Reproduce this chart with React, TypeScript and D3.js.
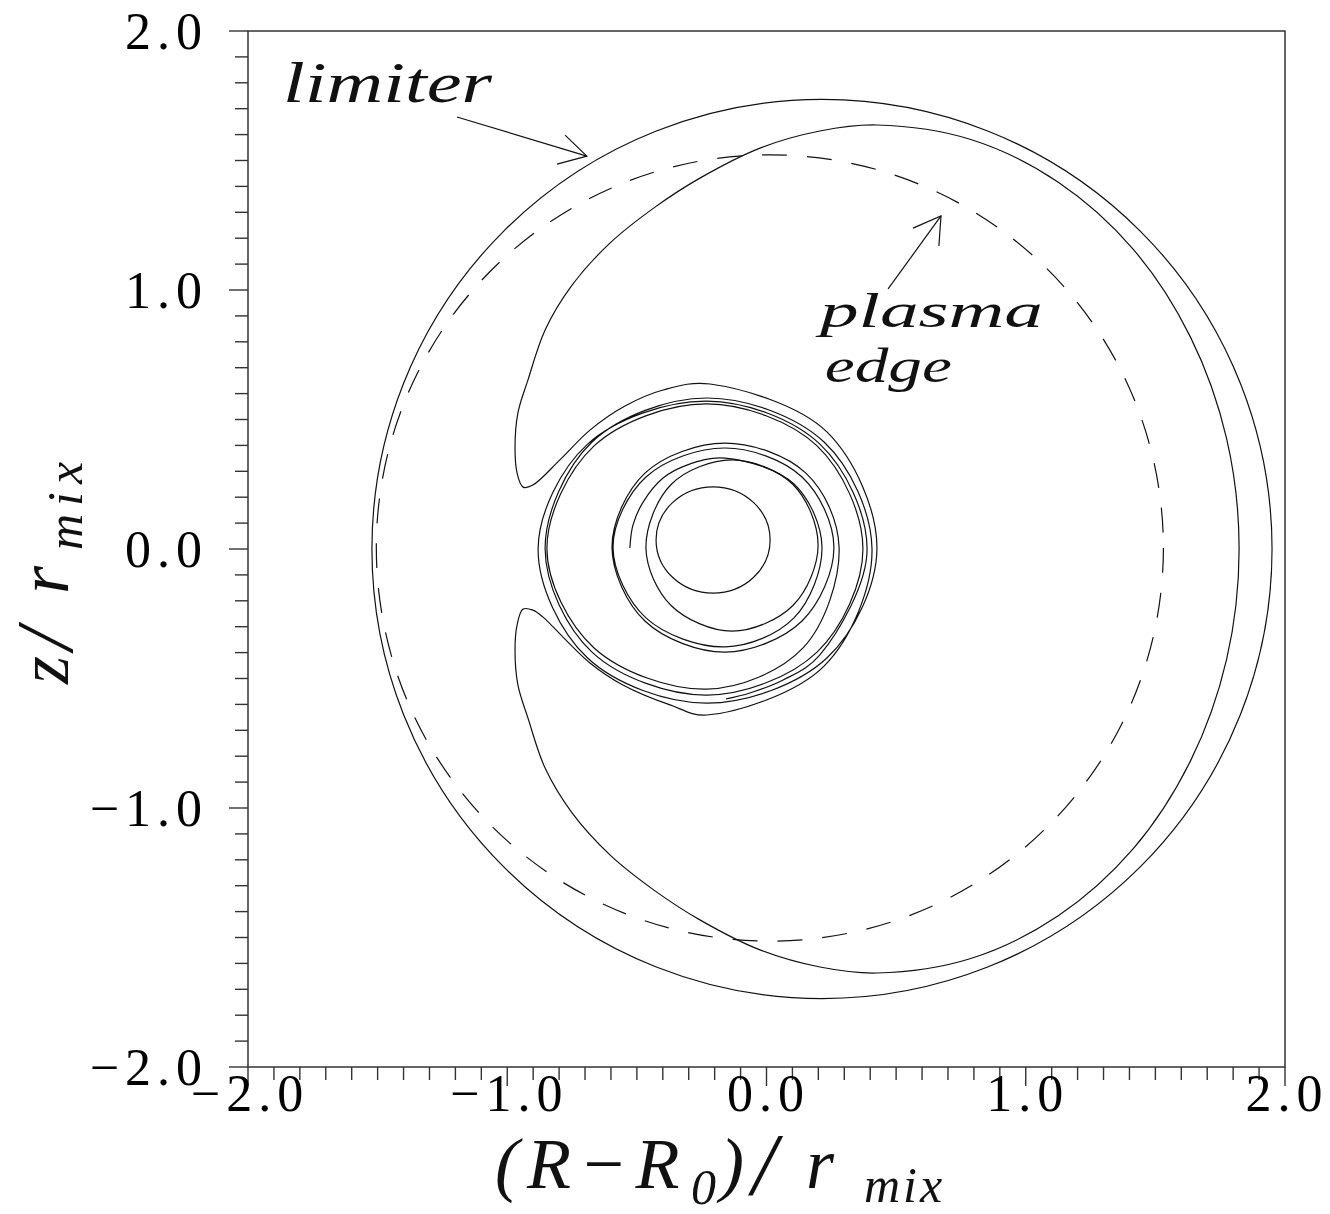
import React, { useEffect, useRef } from 'react';
import * as d3 from 'd3';

// frame
const width = 1330;
const height = 1214;
const plot = { left: 248, right: 1285, top: 31, bottom: 1067 };

const domain: [number, number] = [-2, 2];
const majorTicks = [-2, -1, 0, 1, 2];
const majorLabels = ['\u22122.0', '\u22121.0', '0.0', '1.0', '2.0'];

// circles (data units)
const limiter = { cx: 0.214, cy: 0.0, r: 1.736 };
const plasmaEdge = { cx: 0.013, cy: 0.004, r: 1.518 };
const coreSurface = { cx: -0.206, cy: 0.035, rx: 0.22, ry: 0.205 };

// arm leaving the upper hook, clockwise, ends near the bottom
const armUpper: [number, number][] = [
  [-0.939, 0.239], [-0.901, 0.247], [-0.797, 0.344], [-0.681, 0.459], [-0.546, 0.552],
  [-0.399, 0.614], [-0.218, 0.637], [0.233, 0.452], [0.426, 0.0], [0.233, -0.421],
  [-0.23, -0.595], [-0.69, -0.421], [-0.881, 0.0], [-0.69, 0.405], [-0.23, 0.571],
  [0.206, 0.405], [0.388, 0.0], [0.206, -0.409], [0.064, -0.506], [-0.064, -0.556],
  [-0.156, -0.579],
];

// outer crescent, from the upper hook round the right side to the lower hook
const crescent: [number, number][] = [
  [-0.939, 0.239], [-0.962, 0.293], [-0.97, 0.394], [-0.959, 0.525], [-0.92, 0.653],
  [-0.854, 0.846], [-0.75, 1.019], [-0.604, 1.181], [-0.43, 1.32], [-0.257, 1.432],
  [-0.025, 1.548], [0.206, 1.614], [0.426, 1.637], [0.788, 1.581], [1.124, 1.417],
  [1.414, 1.158], [1.635, 0.819], [1.775, 0.425], [1.823, 0.0], [1.775, -0.425],
  [1.635, -0.819], [1.414, -1.158], [1.124, -1.417], [0.788, -1.581], [0.426, -1.637],
  [0.206, -1.614], [-0.025, -1.548], [-0.257, -1.432], [-0.43, -1.32], [-0.604, -1.181],
  [-0.75, -1.019], [-0.854, -0.846], [-0.92, -0.653], [-0.959, -0.525], [-0.97, -0.394],
  [-0.962, -0.293], [-0.939, -0.232],
];

// arm leaving the lower hook, counter-clockwise, winds into the core
const armLower: [number, number][] = [
  [-0.939, -0.232], [-0.901, -0.236], [-0.862, -0.263], [-0.785, -0.34], [-0.681, -0.44],
  [-0.554, -0.525], [-0.372, -0.602], [-0.23, -0.641], [0.222, -0.452], [0.407, 0.0],
  [0.222, 0.413], [-0.23, 0.583], [-0.673, 0.413], [-0.854, 0.0], [-0.673, -0.398],
  [-0.23, -0.564], [0.195, -0.398], [0.372, 0.0], [0.195, 0.398], [-0.23, 0.56],
  [-0.665, 0.398], [-0.847, 0.0], [-0.665, -0.382], [-0.23, -0.541], [0.141, -0.382],
  [0.28, 0.008], [0.152, 0.293], [-0.16, 0.409], [-0.469, 0.293], [-0.596, 0.008],
  [-0.469, -0.278], [-0.16, -0.398], [0.137, -0.278], [0.26, 0.008], [0.137, 0.278],
  [-0.16, 0.39], [-0.465, 0.278], [-0.592, 0.008], [-0.465, -0.266], [-0.16, -0.378],
  [0.106, -0.266], [0.214, 0.008], [0.106, 0.251], [-0.16, 0.351], [-0.307, 0.324],
  [-0.399, 0.274], [-0.476, 0.181], [-0.515, 0.093], [-0.527, 0.004],
];

// shifted closed loop inside the spiral
const innerLoop: [number, number][] = [
  [-0.465, 0.004], [-0.368, 0.249], [-0.133, 0.344], [0.102, 0.249],
  [0.199, 0.015], [0.102, -0.218], [-0.133, -0.317], [-0.368, -0.218],
];

// annotations
const limiterArrow: [number, number][] = [[-1.194, 1.668], [-0.693, 1.517]];
const limiterHead: [number, number][] = [[-0.777, 1.598], [-0.693, 1.517], [-0.808, 1.486]];
const plasmaArrow: [number, number][] = [[0.469, 1.004], [0.673, 1.286]];
const plasmaHead: [number, number][] = [[0.565, 1.239], [0.673, 1.286], [0.665, 1.17]];
const labels = [
  { text: 'limiter', x: -1.865, y: 1.726, size: 58, len: 209 },
  { text: 'plasma', x: 0.206, y: 0.857, size: 48, len: 223 },
  { text: 'edge', x: 0.225, y: 0.645, size: 48, len: 127 },
];

// pieces of the axis titles: text, start along the axis (px), size, baseline shift, spacing
const xTitleParts = [
  { t: '(R\u2212R', at: 495, size: 72, dy: 0, ls: 8 },
  { t: '0', at: 691, size: 50, dy: 16, ls: 0 },
  { t: ')', at: 720, size: 72, dy: 0, ls: 0 },
  { t: '/', at: 752, size: 88, dy: 6, ls: 0 },
  { t: 'r', at: 806, size: 72, dy: 0, ls: 0 },
  { t: 'mix', at: 864, size: 50, dy: 14, ls: 3 },
];
const yTitleParts = [
  { t: 'z', at: 684, size: 72, dy: 0, ls: 0 },
  { t: '/', at: 650, size: 80, dy: 4, ls: 0 },
  { t: 'r', at: 594, size: 72, dy: 0, ls: 0 },
  { t: 'mix', at: 550, size: 50, dy: 14, ls: 8 },
];

const serif = '"Liberation Serif", "DejaVu Serif", serif';

const App = () => {
  const svgRef = useRef<SVGSVGElement | null>(null);

  useEffect(() => {
    if (!svgRef.current) return;
    const svg = d3.select(svgRef.current);
    svg.selectAll('*').remove();

    const x = d3.scaleLinear().domain(domain).range([plot.left, plot.right]);
    const y = d3.scaleLinear().domain(domain).range([plot.bottom, plot.top]);

    const ink = '#111';

    // frame
    svg.append('rect')
      .attr('x', plot.left).attr('y', plot.top)
      .attr('width', plot.right - plot.left).attr('height', plot.bottom - plot.top)
      .attr('fill', 'none').attr('stroke', '#333').attr('stroke-width', 1.5);

    // ticks every 0.1, major on integers, pointing outwards
    const ticks = d3.range(-20, 21).map(i => ({ v: i / 10, major: i % 10 === 0 }));
    svg.append('g').selectAll('line').data(ticks).join('line')
      .attr('x1', plot.left).attr('x2', d => plot.left - (d.major ? 19 : 13))
      .attr('y1', d => y(d.v)).attr('y2', d => y(d.v))
      .attr('stroke', '#333').attr('stroke-width', 1.4);
    svg.append('g').selectAll('line').data(ticks).join('line')
      .attr('y1', plot.bottom).attr('y2', d => plot.bottom + (d.major ? 19 : 13))
      .attr('x1', d => x(d.v)).attr('x2', d => x(d.v))
      .attr('stroke', '#333').attr('stroke-width', 1.4);

    // tick labels
    svg.append('g').selectAll('text').data(majorTicks).join('text')
      .attr('x', d => x(d) + 2).attr('y', plot.bottom + 44)
      .attr('text-anchor', 'middle')
      .attr('font-family', serif).attr('font-size', 52).attr('letter-spacing', 6)
      .text((d, i) => majorLabels[i]);
    svg.append('g').selectAll('text').data(majorTicks).join('text')
      .attr('x', plot.left - 40).attr('y', d => y(d) + 18)
      .attr('text-anchor', 'end')
      .attr('font-family', serif).attr('font-size', 52).attr('letter-spacing', 6)
      .text((d, i) => majorLabels[i]);

    // x title
    const xt = svg.append('text')
      .attr('font-family', serif).attr('font-style', 'italic')
      .attr('fill', ink);
    xt.selectAll('tspan').data(xTitleParts).join('tspan')
      .attr('x', d => d.at).attr('y', d => 1188 + d.dy)
      .attr('font-size', d => d.size)
      .attr('letter-spacing', d => d.ls)
      .text(d => d.t);

    // y title, reading upwards
    const yt = svg.append('text')
      .attr('transform', 'rotate(-90)')
      .attr('font-family', serif).attr('font-style', 'italic')
      .attr('fill', ink);
    yt.selectAll('tspan').data(yTitleParts).join('tspan')
      .attr('x', d => -d.at).attr('y', d => 68 + d.dy)
      .attr('font-size', d => d.size)
      .attr('letter-spacing', d => d.ls)
      .text(d => d.t);

    const g = svg.append('g').attr('fill', 'none').attr('stroke', ink).attr('stroke-width', 1.2);

    // limiter and plasma edge
    g.append('ellipse')
      .attr('cx', x(limiter.cx)).attr('cy', y(limiter.cy))
      .attr('rx', x(limiter.cx + limiter.r) - x(limiter.cx))
      .attr('ry', y(limiter.cy) - y(limiter.cy + limiter.r));
    g.append('ellipse')
      .attr('cx', x(plasmaEdge.cx)).attr('cy', y(plasmaEdge.cy))
      .attr('rx', x(plasmaEdge.cx + plasmaEdge.r) - x(plasmaEdge.cx))
      .attr('ry', y(plasmaEdge.cy) - y(plasmaEdge.cy + plasmaEdge.r))
      .attr('stroke-dasharray', '25 20');
    g.append('ellipse')
      .attr('cx', x(coreSurface.cx)).attr('cy', y(coreSurface.cy))
      .attr('rx', x(coreSurface.cx + coreSurface.rx) - x(coreSurface.cx))
      .attr('ry', y(coreSurface.cy) - y(coreSurface.cy + coreSurface.ry));

    // the wound-up contour
    const open = d3.line<[number, number]>()
      .x(d => x(d[0])).y(d => y(d[1]))
      .curve(d3.curveCatmullRom.alpha(0.5));
    const closed = d3.line<[number, number]>()
      .x(d => x(d[0])).y(d => y(d[1]))
      .curve(d3.curveCatmullRomClosed.alpha(0.5));
    const contour = [...armUpper].reverse().concat(crescent.slice(1), armLower.slice(1));
    g.append('path').attr('d', open(contour));
    g.append('path').attr('d', closed(innerLoop));

    // arrows
    const straight = d3.line<[number, number]>().x(d => x(d[0])).y(d => y(d[1]));
    [limiterArrow, limiterHead, plasmaArrow, plasmaHead].forEach(pts => {
      g.append('path').attr('d', straight(pts));
    });

    // annotation labels
    svg.append('g').selectAll('text').data(labels).join('text')
      .attr('x', d => x(d.x)).attr('y', d => y(d.y))
      .attr('font-family', serif).attr('font-style', 'italic')
      .attr('font-size', d => d.size)
      .attr('textLength', d => d.len).attr('lengthAdjust', 'spacingAndGlyphs')
      .attr('fill', ink)
      .text(d => d.text);
  }, []);

  return (
    <svg
      ref={svgRef}
      width={width}
      height={height}
      style={{ position: 'absolute', left: 0, top: 0, background: '#fff' }}
    />
  );
};

export default App;
